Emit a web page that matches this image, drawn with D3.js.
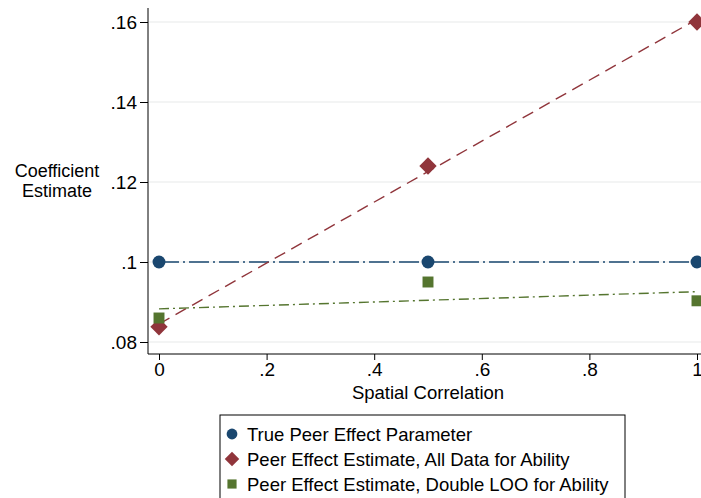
<!DOCTYPE html>
<html>
<head>
<meta charset="utf-8">
<script src="https://cdn.jsdelivr.net/npm/d3@7"></script>
<style>
body { margin: 0; background: #fff; }
svg { display: block; font-family: "Liberation Sans", Arial, sans-serif; }
</style>
</head>
<body>
<svg id="chart" width="701" height="498"></svg>
<script>
"use strict";

var spatial_corr = [0, 0.5, 1];
var true_effect = [0.1, 0.1, 0.1];
var all_data_est = [0.0838, 0.124, 0.16];
var double_loo_est = [0.086, 0.095, 0.0903];
var x_ticks = [0, 0.2, 0.4, 0.6, 0.8, 1];
var y_ticks = [0.08, 0.10, 0.12, 0.14, 0.16];
var legend_labels = ["True Peer Effect Parameter", "Peer Effect Estimate, All Data for Ability", "Peer Effect Estimate, Double LOO for Ability"];

var navy = "#1a476f", maroon = "#90353b", green = "#55752f";

var svg = d3.select("#chart");

var x = d3.scaleLinear().domain([0, 1]).range([159, 697]);
var y = d3.scaleLinear().domain([0.08, 0.16]).range([342, 22]);

var plot_left = 148, plot_bottom = 354, plot_top = 8;

// stata style tick format: drop leading zero
function fmt(d) {
	if (d === 0) return "0";
	if (d === 1) return "1";
	return d3.format(".2~f")(d).replace(/^0/, "");
}

//square turned 45 degrees, like stata's diamond
var stataDiamond = {
	draw: function(ctx, size) {
		var r = Math.sqrt(size / 2);
		ctx.moveTo(0, -r); ctx.lineTo(r, 0); ctx.lineTo(0, r); ctx.lineTo(-r, 0); ctx.closePath();
	}
};

//gridlines
svg.append("g").selectAll("line").data(y_ticks).enter().append("line")
	.attr("x1", plot_left + 1).attr("x2", 701)
	.attr("y1", function(d) { return y(d); })
	.attr("y2", function(d) { return y(d); })
	.attr("stroke", "#e8eaea").attr("stroke-width", 1.2);

//axes
var yAxis = d3.axisLeft(y).tickValues(y_ticks).tickSize(8).tickPadding(3).tickFormat(fmt);
var gy = svg.append("g").attr("transform", "translate(" + plot_left + ",0)").call(yAxis);
gy.select(".domain").remove();
gy.append("line").attr("x1", 0).attr("x2", 0).attr("y1", plot_top).attr("y2", plot_bottom).attr("stroke", "#000");

var xAxis = d3.axisBottom(x).tickValues(x_ticks).tickSize(6).tickPadding(3).tickFormat(fmt);
var gx = svg.append("g").attr("transform", "translate(0," + plot_bottom + ")").call(xAxis);
gx.select(".domain").remove();
gx.append("line").attr("x1", plot_left).attr("x2", 701).attr("y1", 0).attr("y2", 0).attr("stroke", "#000");

svg.selectAll(".tick text").attr("font-size", 19).attr("fill", "#000").attr("font-family", "Liberation Sans, Arial, sans-serif");
svg.selectAll(".tick line").attr("stroke", "#000");

//axis titles
svg.append("text").attr("x", 428).attr("y", 399).attr("text-anchor", "middle").attr("font-size", 18.5).text("Spatial Correlation");
svg.append("text").attr("x", 57).attr("y", 177).attr("text-anchor", "middle").attr("font-size", 18).text("Coefficient");
svg.append("text").attr("x", 57).attr("y", 197).attr("text-anchor", "middle").attr("font-size", 18).text("Estimate");

//least squares fit
function fit(xs, ys) {
	var mx = d3.mean(xs), my = d3.mean(ys);
	var sxy = d3.sum(xs, function(v, i) { return (v - mx) * (ys[i] - my); });
	var sxx = d3.sum(xs, function(v) { return (v - mx) * (v - mx); });
	var b = sxy / sxx;
	return [my - b * mx, b];
}

var series = [
	{ vals: true_effect, color: navy, dash: "20,4,2,4", shape: d3.symbolCircle, size: 130 },
	{ vals: all_data_est, color: maroon, dash: "12,7", shape: stataDiamond, size: 150 },
	{ vals: double_loo_est, color: green, dash: "10,4,2,4", shape: d3.symbolSquare, size: 120 }
];

series.forEach(function(s) {
	var c = fit(spatial_corr, s.vals);
	var x0 = d3.min(spatial_corr), x1 = d3.max(spatial_corr);
	svg.append("line")
		.attr("x1", x(x0)).attr("y1", y(c[0] + c[1] * x0))
		.attr("x2", x(x1)).attr("y2", y(c[0] + c[1] * x1))
		.attr("stroke", s.color).attr("stroke-width", 1.4)
		.attr("stroke-dasharray", s.dash);
});

series.forEach(function(s) {
	svg.append("g").selectAll("path").data(s.vals).enter().append("path")
		.attr("d", d3.symbol().type(s.shape).size(s.size))
		.attr("transform", function(d, i) { return "translate(" + x(spatial_corr[i]) + "," + y(d) + ")"; })
		.attr("fill", s.color);
});

//legend
var lg = svg.append("g").attr("transform", "translate(220,415)");
lg.append("rect").attr("x", 0).attr("y", 0).attr("width", 405).attr("height", 90)
	.attr("fill", "#fff").attr("stroke", "#000").attr("stroke-width", 1);
legend_labels.forEach(function(lbl, i) {
	var s = series[i];
	var cy = 19 + i * 25;
	lg.append("path")
		.attr("d", d3.symbol().type(s.shape).size(s.size * 0.7))
		.attr("transform", "translate(12," + cy + ")")
		.attr("fill", s.color);
	lg.append("text").attr("x", 27).attr("y", cy + 6.5).attr("font-size", 18.5).text(lbl);
});
</script>
</body>
</html>
